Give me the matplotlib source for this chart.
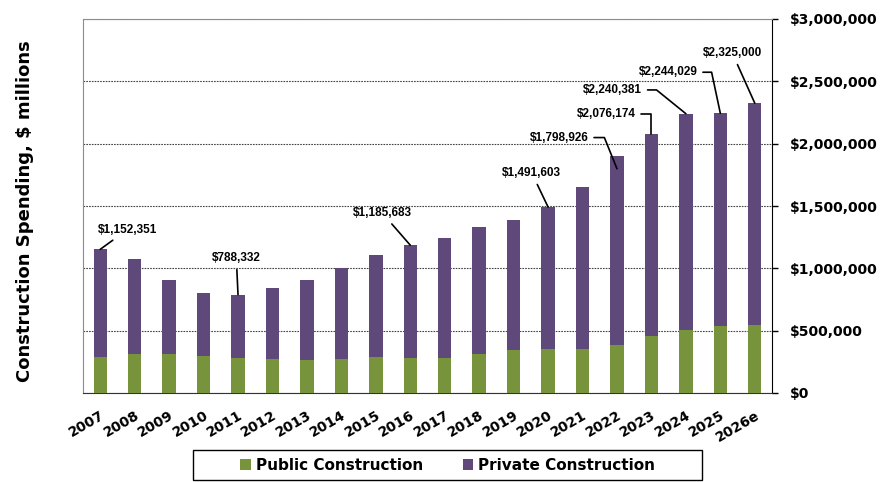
import numpy as np
import matplotlib.pyplot as plt
from matplotlib.patches import Rectangle
from matplotlib.ticker import FuncFormatter, MultipleLocator

# construction spending, $ millions
years = ["2007", "2008", "2009", "2010", "2011", "2012", "2013", "2014", "2015", "2016",
         "2017", "2018", "2019", "2020", "2021", "2022", "2023", "2024", "2025", "2026e"]
public = [291000, 310000, 310000, 299000, 283000, 275000, 265000, 275000, 289000, 283000,
          283000, 310000, 342000, 355000, 355000, 382000, 460000, 508000, 535000, 548000]
private = [861351, 765000, 596000, 506000, 505332, 570000, 641000, 728000, 820000, 902683,
           958000, 1019000, 1048000, 1136603, 1295000, 1522000, 1616174, 1732381, 1709029, 1777000]

# callouts
callout_idx = [0, 4, 9, 13, 15, 16, 17, 18, 19]
callout_val = [1152351, 788332, 1185683, 1491603, 1798926, 2076174, 2240381, 2244029, 2325000]
callout_txt = ["$1,152,351", "$788,332", "$1,185,683", "$1,491,603", "$1,798,926",
               "$2,076,174", "$2,240,381", "$2,244,029", "$2,325,000"]
# text positions (bar index units, value units) and leader line shapes
callout_pos = [(0.78, 1309000), (3.95, 1082000), (8.19, 1443000), (12.53, 1763000),
               (13.32, 2049000), (14.68, 2236000), (14.87, 2431000), (16.48, 2573000),
               (18.35, 2725000)]
callout_conn = ["arc3", "arc3", "arc3", "arc3",
                "angle,angleA=0,angleB=-68,rad=0", "angle,angleA=0,angleB=90,rad=0",
                "angle,angleA=0,angleB=-39,rad=0", "angle,angleA=0,angleB=-78,rad=0", "arc3"]

green = "#77933C"
purple = "#5F497A"

fig = plt.figure(figsize=(8.81, 4.82), dpi=100)
ax = fig.add_axes([83/881, 89/482, 689/881, 374/482])

x = np.arange(len(years))
ax.bar(x, public, width=0.39, color=green, label="Public Construction", zorder=3)
ax.bar(x, private, width=0.39, bottom=public, color=purple, label="Private Construction", zorder=3)

ax.set_xlim(-0.5, len(years) - 0.5)
ax.set_ylim(0, 3000000)
ax.yaxis.set_major_locator(MultipleLocator(500000))
ax.yaxis.set_major_formatter(FuncFormatter(lambda v, p: "${:,.0f}".format(v)))
ax.yaxis.tick_right()
ax.tick_params(axis='y', which='both', direction='out', length=4, width=1, pad=9,
               labelsize=10, colors='black')
for lab in ax.get_yticklabels():
    lab.set_fontweight('bold')

ax.set_xticks(x)
ax.set_xticklabels(years, rotation=30, ha='right', rotation_mode='anchor',
                   fontsize=10, fontweight='bold')
ax.tick_params(axis='x', length=0, pad=11)

ax.grid(axis='y', color='#444444', linestyle=(0, (1.5, 1)), linewidth=0.8, zorder=0)

for side in ['top', 'left']:
    ax.spines[side].set_color('#8c8c8c')
ax.spines['bottom'].set_color('#333333')
ax.spines['right'].set_color('black')

for i, v, t, pos, cs in zip(callout_idx, callout_val, callout_txt, callout_pos, callout_conn):
    ax.annotate(t, xy=(i, v), xytext=pos, ha='center', va='center',
                fontsize=8.5, fontweight='bold', family='Liberation Sans',
                arrowprops=dict(arrowstyle='-', color='black', lw=1.2,
                                connectionstyle=cs, shrinkA=2, shrinkB=0),
                zorder=5)

fig.text(25/881, 0.561, "Construction Spending, $ millions", rotation=90,
         ha='center', va='center', fontsize=13, fontweight='bold')

fig.legend(loc='center', bbox_to_anchor=(0.508, 0.035), ncol=2, frameon=False,
           prop={'weight': 'bold', 'size': 11},
           handlelength=0.7, handleheight=0.7, handletextpad=0.3, columnspacing=2.6)
fig.patches.append(Rectangle((193/881, 2/482), 509/881, 30/482, transform=fig.transFigure,
                             fill=False, edgecolor='black', linewidth=1))

fig.savefig("out.png", dpi=100)
